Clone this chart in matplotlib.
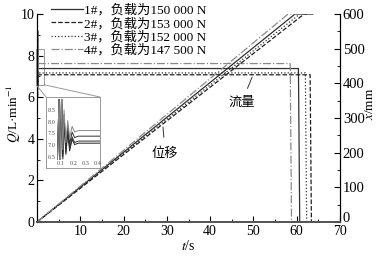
import matplotlib
matplotlib.use("Agg")
import matplotlib.pyplot as plt
from matplotlib.patches import Rectangle, ConnectionPatch
from matplotlib.ticker import MultipleLocator

plt.rcParams['font.family'] = ['Liberation Serif', 'Noto Sans CJK SC']
plt.rcParams['mathtext.fontset'] = 'stix'
plt.rcParams['font.size'] = 10

# data
labels = ['1#，负载为150 000 N', '2#，负载为153 000 N',
          '3#，负载为152 000 N', '4#，负载为147 500 N']
q_level = [7.38, 7.08, 7.17, 7.62]       # steady flow, L/min
t_stop = [60.4, 63.1, 62.0, 58.5]        # flow drops to zero, s
t_full = [59.6, 61.7, 60.7, 58.0]        # displacement reaches 600 mm, s
t_last = 63.7
x_max = 600

# start-up transient (inset)
t_in = [0.07, 0.085, 0.095, 0.105, 0.115, 0.125, 0.14, 0.155, 0.17, 0.19, 0.21, 0.24, 0.43]
q_in = [
    [6.0, 9.2, 6.0, 9.2, 6.6, 8.3, 6.9, 7.85, 7.05, 7.55, 7.32, 7.38, 7.38],
    [6.0, 9.2, 6.0, 9.2, 6.4, 8.0, 6.6, 7.55, 6.75, 7.25, 7.02, 7.08, 7.08],
    [6.0, 9.2, 6.0, 9.2, 6.5, 8.1, 6.7, 7.65, 6.85, 7.35, 7.11, 7.17, 7.17],
    [6.0, 9.2, 6.0, 9.2, 6.8, 8.5, 7.1, 8.05, 7.3, 7.8, 7.56, 7.62, 7.62],
]
styles = ['-', '--', ':', '-.']
colors = ['#303030', '#202020', '#303030', '#8a8a8a']

fig = plt.figure(figsize=(3.82, 2.56), dpi=100)
ax = fig.add_axes([0.097, 0.133, 0.793, 0.812])
ax2 = ax.twinx()

for i in range(4):
    tq = [0.0] + t_in + [t_stop[i], t_stop[i] + 0.3, t_last]
    qq = [0.0] + q_in[i] + [q_level[i], 0.0, 0.0]
    ax.plot(tq, qq, ls=styles[i], color=colors[i], lw=0.9, label=labels[i])
    ax2.plot([0.0, t_full[i], t_last], [0.0, x_max, x_max],
             ls=styles[i], color=colors[i], lw=0.9)

ax.set_xlim(0, 70)
ax.set_ylim(0, 10)
ax2.set_ylim(0, 600)
ax.xaxis.set_major_locator(MultipleLocator(10))
ax.xaxis.set_minor_locator(MultipleLocator(5))
ax.yaxis.set_major_locator(MultipleLocator(2))
ax.yaxis.set_minor_locator(MultipleLocator(1))
ax2.set_yticks([0, 100, 200, 300, 400, 500, 600])
ax2.yaxis.set_minor_locator(MultipleLocator(50))
ax.set_xticks([10, 20, 30, 40, 50, 60, 70])
ax.tick_params(which='both', direction='in', top=False, right=False, pad=2)
ax.tick_params(which='major', length=4)
ax.tick_params(which='minor', length=2)
ax2.tick_params(which='both', direction='in', pad=2, labelsize=10.5)
ax2.tick_params(which='major', length=4)
ax2.tick_params(which='minor', length=2)
ax2.get_yticklabels()[0].set_va('baseline')

for a in (ax, ax2):
    a.spines['top'].set_visible(False)
    a.spines['bottom'].set_linewidth(1.3)
    a.spines['bottom'].set_color('#555555')

ax.set_xlabel(r'$t$/s', labelpad=1)
ax.set_ylabel(r'$Q$/L·min$^{-1}$', fontsize=9.5)
ax.yaxis.set_label_coords(-0.045, 0.52)
ax2.set_ylabel(r'$x$/mm', fontsize=9.5)
ax2.yaxis.set_label_coords(1.08, 0.57)

leg = ax.legend(loc='upper left', bbox_to_anchor=(0.02, 1.085), frameon=False,
                handlelength=2.4, handletextpad=0.1, labelspacing=0.05,
                borderaxespad=0.2, fontsize=9.5)

ax.annotate('流量', xy=(49.7, 6.97), xytext=(47.3, 5.75), ha='center', va='center',
            fontsize=9.5, arrowprops=dict(arrowstyle='-', color='#333333', lw=0.7,
                                          shrinkA=4, shrinkB=0))
ax.annotate('位移', xy=(29.1, 4.57), xytext=(29.6, 3.3), ha='center', va='center',
            fontsize=9.5, arrowprops=dict(arrowstyle='-', color='#333333', lw=0.7,
                                          shrinkA=5, shrinkB=0))

# zoom box on main axes
ax.add_patch(Rectangle((-0.2, 6.6), 1.8, 1.7, fill=False, ec='#999999', lw=0.7,
                       clip_on=False))
box = [46 / 382, 1 - 168 / 256, 54 / 382, 71 / 256]
boxax = fig.add_axes(box, zorder=3)
boxax.set_xticks([])
boxax.set_yticks([])
for s in boxax.spines.values():
    s.set_color('#999999')
    s.set_linewidth(0.7)
for xa, xb in ((-0.2, box[0]), (1.6, box[0] + box[2])):
    fig.add_artist(ConnectionPatch(xyA=(xa, 6.6), coordsA=ax.transData,
                                   xyB=(xb, box[1] + box[3]), coordsB=fig.transFigure,
                                   color='#999999', lw=0.7))

axin = fig.add_axes([57 / 382, 1 - 160 / 256, 43 / 382, 61 / 256], zorder=4)
for i in range(4):
    axin.plot(t_in, q_in[i], ls='-', color=colors[i], lw=0.7)
axin.set_xlim(0.068, 0.415)
axin.set_ylim(6.36, 8.97)
axin.set_xticks([0.1, 0.2, 0.3, 0.4])
axin.set_xticklabels(['0.1', '0.2', '0.3', '0.4'])
axin.set_yticks([6.5, 7.0, 7.5, 8.0, 8.5])
axin.set_yticklabels(['6.5', '7.0', '7.5', '8.0', '8.5'])
axin.tick_params(labelsize=4.5, length=0, pad=1, colors='#555555')
for s in axin.spines.values():
    s.set_visible(False)
axin.patch.set_alpha(0)

fig.savefig('out.png', dpi=100)
